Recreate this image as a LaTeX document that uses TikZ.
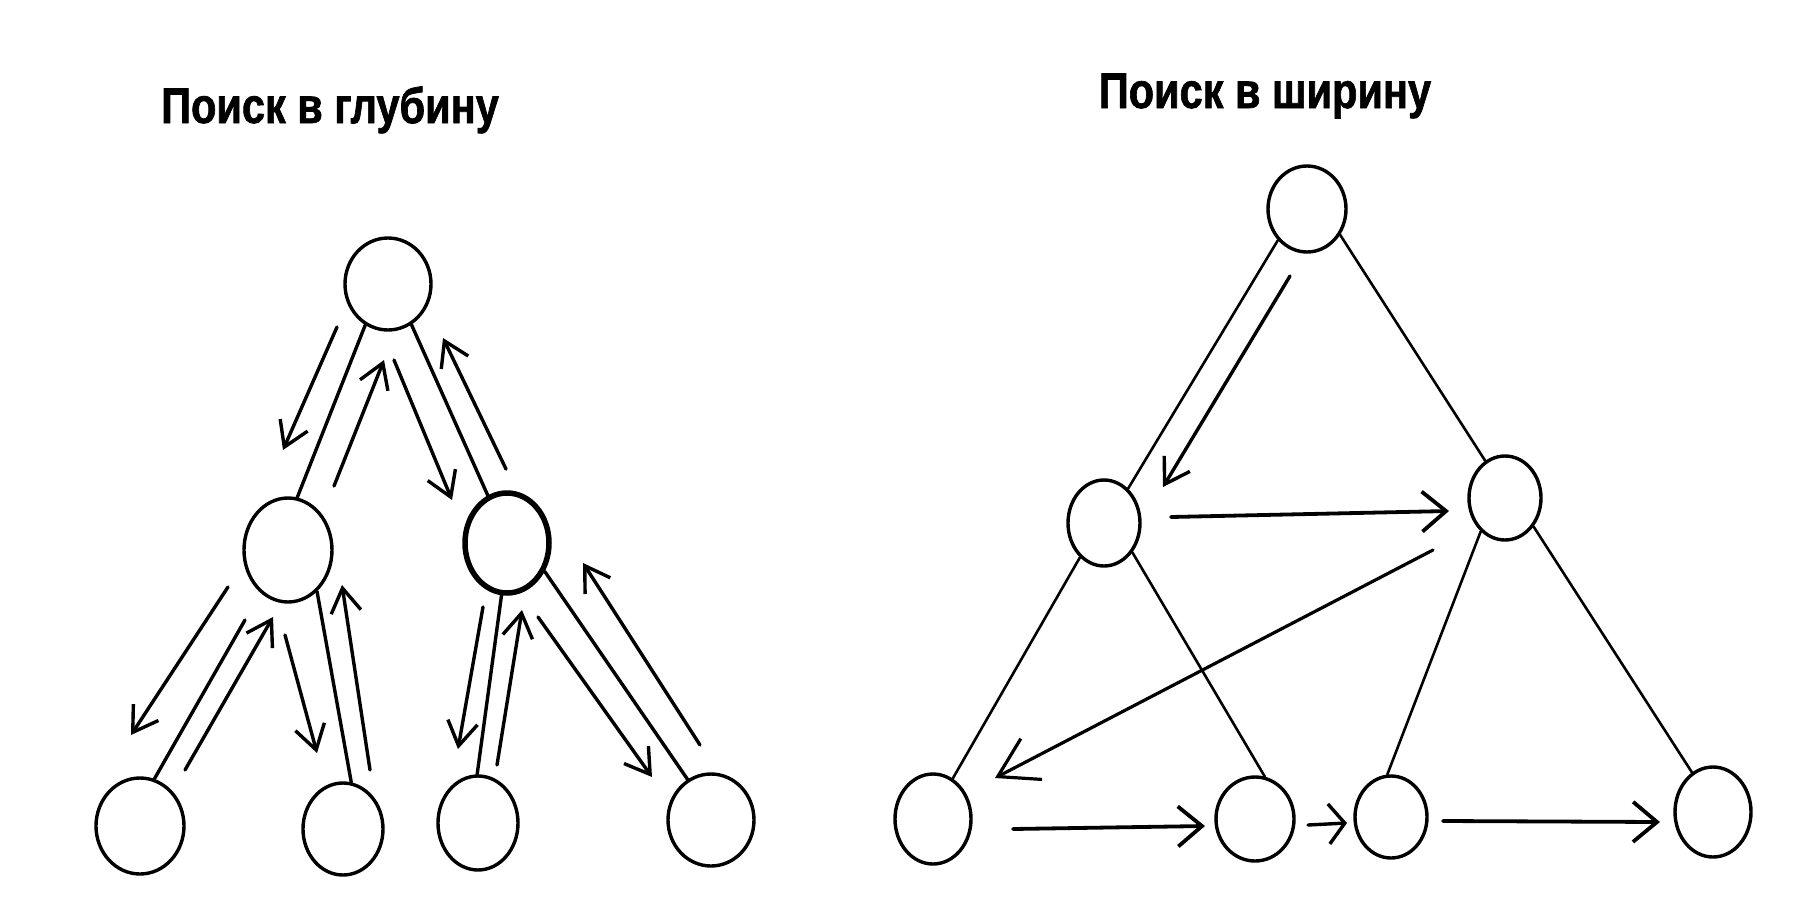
\documentclass[tikz,border=0pt]{standalone}
\usepackage{fontspec}
\setmainfont{Liberation Sans}
\newfontfamily\titlefont[FakeBold=1.5]{Liberation Sans Bold}
\usetikzlibrary{arrows.meta,shapes.geometric}
\begin{document}
\begin{tikzpicture}[x=1pt,y=-1pt,
  vtx/.style={draw, ellipse, inner sep=0pt, line width=3.4pt},
  edge/.style={line width=3.4pt, line cap=round},
  thinedge/.style={line width=2.6pt, line cap=round},
  arr/.style={line width=3.4pt, line cap=round, -{Straight Barb[length=24pt,width=30pt]}},
  harr/.style={line width=3.8pt, line cap=round, -{Straight Barb[length=24pt,width=40pt]}},
  bigarr/.style={line width=3.2pt, line cap=round, -{Straight Barb[length=38pt,width=46pt]}},
  title/.style={anchor=base, inner sep=0pt}]
\useasboundingbox (0,0) rectangle (1813,913);

% titles
\node[title] (t1) at (330,123) {\scalebox{0.83}[1]{\fontsize{50}{60}\selectfont\titlefont Поиск в глубину}};
\node[title] (t2) at (1265,108) {\scalebox{0.83}[1]{\fontsize{50}{60}\selectfont\titlefont Поиск в ширину}};

% ---------- depth-first tree ----------
\node[vtx, minimum width=86pt, minimum height=92pt] (r) at (388,284) {};
\node[vtx, minimum width=88pt, minimum height=104pt] (a) at (288,550) {};
\node[vtx, line width=5.5pt, minimum width=84pt, minimum height=100pt] (b) at (507,543) {};
\node[vtx, minimum width=88pt, minimum height=96pt] (c) at (140,826) {};
\node[vtx, minimum width=80pt, minimum height=92pt] (d) at (343,829) {};
\node[vtx, minimum width=80pt, minimum height=94pt] (e) at (478,823) {};
\node[vtx, minimum width=86pt, minimum height=92pt] (f) at (711,820) {};

\draw[edge] (r.241) -- (a.80);
\draw[edge] (r.300) -- (b.112);
\draw[edge] (245,620) coordinate (ac0) -- (c.73);
\draw[edge] (a.305) -- (d.80);
\draw[edge] (b.264) -- (e.91);
\draw[edge] (b.323) -- (f.120);

\coordinate (a1s) at (337,327); \coordinate (a1e) at (283,450);
\coordinate (a2s) at (334,486); \coordinate (a2e) at (384,360);
\coordinate (a3s) at (394,360); \coordinate (a3e) at (452,500);
\coordinate (a4s) at (506,469); \coordinate (a4e) at (443,338);
\coordinate (a5s) at (228,587); \coordinate (a5e) at (131,735);
\coordinate (a6s) at (185,770); \coordinate (a6e) at (273,617);
\coordinate (a7s) at (285,635); \coordinate (a7e) at (317,753);
\coordinate (a8s) at (370,770); \coordinate (a8e) at (342,585);
\coordinate (a9s) at (483,607); \coordinate (a9e) at (458,749);
\coordinate (a10s) at (497,765); \coordinate (a10e) at (522,610);
\coordinate (a11s) at (538,617); \coordinate (a11e) at (652,777);
\coordinate (a12s) at (700,745); \coordinate (a12e) at (583,563);
\foreach \i in {1,...,12} \draw[arr] (a\i s) -- (a\i e);

% ---------- breadth-first tree ----------
\node[vtx, minimum width=78pt, minimum height=86pt] (R0) at (1307,209) {};
\node[vtx, minimum width=72pt, minimum height=86pt] (R1) at (1104,523) {};
\node[vtx, minimum width=72pt, minimum height=84pt] (R2) at (1505,498) {};
\node[vtx, minimum width=76pt, minimum height=90pt] (R3) at (933,819) {};
\node[vtx, minimum width=78pt, minimum height=84pt] (R4) at (1255,819) {};
\node[vtx, minimum width=72pt, minimum height=82pt] (R5) at (1391,817) {};
\node[vtx, minimum width=76pt, minimum height=90pt] (R6) at (1713,812) {};

\draw[thinedge] (R0.227) -- (R1.55);
\draw[thinedge] (R0.322) -- (R2.118);
\draw[thinedge] (R1.235) -- (R3.64);
\draw[thinedge] (R1.314) -- (R4.77);
\draw[thinedge] (R2.234) -- (R5.95);
\draw[thinedge] (R2.315) -- (R6.118);

\coordinate (b1s) at (1290,276); \coordinate (b1e) at (1163,487);
\coordinate (b2s) at (1171,517); \coordinate (b2e) at (1449,511);
\coordinate (b3s) at (1433,550); \coordinate (b3e) at (995,778);
\coordinate (b4s) at (1013,829); \coordinate (b4e) at (1205,826);
\coordinate (b5s) at (1308,825); \coordinate (b5e) at (1347,823);
\coordinate (b6s) at (1443,821); \coordinate (b6e) at (1660,822);
\draw[arr] (b1s) -- (b1e);
\draw[harr] (b2s) -- (b2e);
\draw[bigarr] (b3s) -- (b3e);
\draw[harr] (b4s) -- (b4e);
\draw[arr, -{Straight Barb[length=16pt,width=40pt]}] (b5s) -- (b5e);
\draw[harr] (b6s) -- (b6e);
\end{tikzpicture}
\end{document}
